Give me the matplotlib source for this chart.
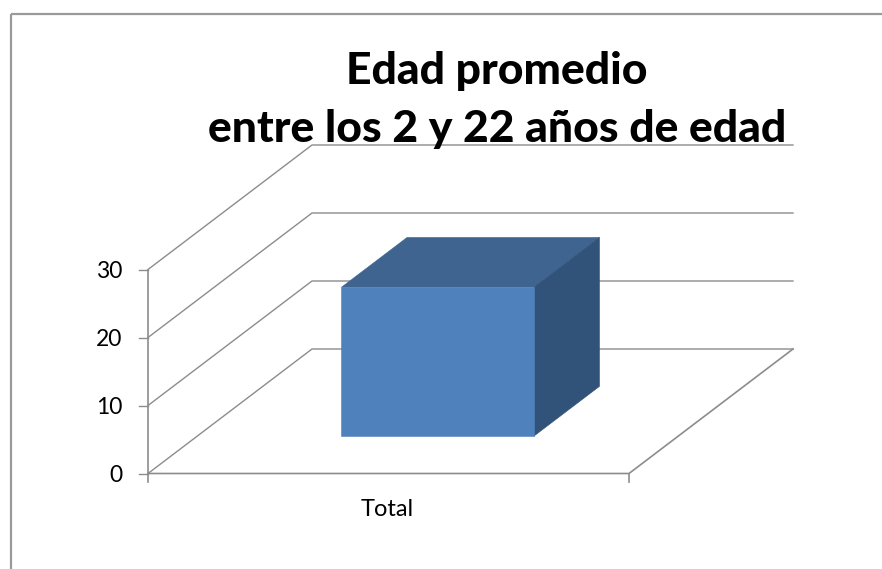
import matplotlib
matplotlib.use("Agg")
import matplotlib.pyplot as plt
from matplotlib.patches import Polygon, Rectangle

title_lines = ["Edad promedio", "entre los 2 y 22 años de edad"]
categories = ["Total"]
values = [21.9]
y_ticks = [0, 10, 20, 30]

# fake 3d: x in 0..1 along the category, v in value units, d in 0..1 into the page
X0, Y0 = 148, 473.5
WIDTH = 481
V_SCALE = 6.8
DEPTH_X, DEPTH_Y = 164, 124.5

def project(x, v, d):
    return X0 + WIDTH * x + DEPTH_X * d, Y0 - V_SCALE * v - DEPTH_Y * d

plt.rcParams['font.family'] = ['Lato', 'DejaVu Sans']
GRID = "#8c8c8c"

fig = plt.figure(figsize=(8.82, 5.69), dpi=100)
ax = fig.add_axes([0, 0, 1, 1])
ax.set_xlim(0, 882)
ax.set_ylim(569, 0)
ax.axis("off")

# outer frame of the chart, right and bottom edges fall outside the picture
ax.add_patch(Rectangle((10.5, 13.5), 900, 600, fill=False, ec="#9a9a9a", lw=1.6))

# walls and gridlines
for t in y_ticks:
    ax.plot(*zip(project(0, t, 0), project(0, t, 1), project(1, t, 1)), color=GRID, lw=1.0)
    x, y = project(0, t, 0)
    ax.plot([x - 9, x], [y, y], color=GRID, lw=1.0)
    ax.text(x - 26, y + 2, str(t), fontsize=16.5, ha="right", va="center", color="black")

# floor and vertical axis
ax.plot(*zip(project(0, 0, 0), project(1, 0, 0), project(1, 0, 1)), color=GRID, lw=1.2)
ax.plot(*zip(project(0, 0, 0), project(0, y_ticks[-1], 0)), color=GRID, lw=1.2)
for x_t in [0, 1]:
    x, y = project(x_t, 0, 0)
    ax.plot([x, x], [y, y + 8], color=GRID, lw=1.2)

# the bar
for i, val in enumerate(values):
    x1, x2 = 0.3, 0.7
    d1, d2 = 0.3, 0.7
    ax.add_patch(Polygon([project(x1, val, d1), project(x2, val, d1), project(x2, val, d2), project(x1, val, d2)],
                         fc="#3e648f", ec="#3e648f", lw=0.4, zorder=3))
    ax.add_patch(Polygon([project(x2, 0, d1), project(x2, 0, d2), project(x2, val, d2), project(x2, val, d1)],
                         fc="#325379", ec="#325379", lw=0.4, zorder=3))
    ax.add_patch(Polygon([project(x1, 0, d1), project(x2, 0, d1), project(x2, val, d1), project(x1, val, d1)],
                         fc="#4f81bd", ec="#4f81bd", lw=0.4, zorder=4))

ax.text(387.5, 510, categories[0], fontsize=17, ha="center", va="center", color="black")

ax.text(497, 71, title_lines[0], fontsize=32, fontweight="black", ha="center", va="center", color="black", zorder=5)
ax.text(497, 129, title_lines[1], fontsize=32, fontweight="black", ha="center", va="center", color="black", zorder=5)

fig.savefig("out.png", dpi=100)
